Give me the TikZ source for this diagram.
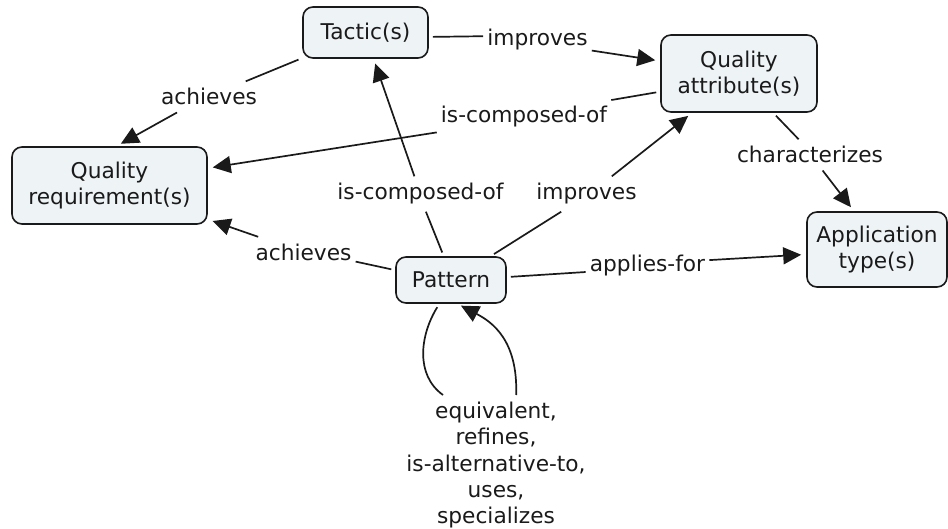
\documentclass[tikz,border=0pt]{standalone}
\usepackage{fontspec}
\setmainfont{DejaVu Sans}
\usetikzlibrary{arrows.meta}
\definecolor{cfill}{HTML}{EEF3F6}
\definecolor{ink}{HTML}{1A1A1A}
\newcommand\dfont{\fontsize{21.7}{26.3}\selectfont}
\begin{document}
\begin{tikzpicture}[x=1pt,y=-1pt,
  concept/.style={draw=ink, fill=cfill, rounded corners=10pt, line width=1.6pt, align=center, font=\dfont, text=ink, inner sep=0pt},
  lbl/.style={font=\dfont, text=ink, inner xsep=4pt, inner ysep=7pt, anchor=base},
  con/.style={draw=ink, line width=1.7pt, shorten <=4pt},
  arr/.style={draw=ink, line width=1.7pt, -{Triangle[length=18pt,width=17pt]}, shorten >=5pt}]
\useasboundingbox (0,0) rectangle (948,529);
% concepts
\node[concept, minimum width=125pt, minimum height=51pt] (T) at (365.5,32.5) {Tactic(s)};
\node[concept, minimum width=156pt, minimum height=77pt] (QA) at (739,73.5) {Quality\\attribute(s)};
\node[concept, minimum width=195pt, minimum height=77pt] (QR) at (109.5,185.5) {Quality\\requirement(s)};
\node[concept, minimum width=140pt, minimum height=75pt] (AT) at (877,249.5) {Application\\type(s)};
\node[concept, minimum width=110pt, minimum height=46pt] (P) at (451,280) {Pattern};
% linking phrases
\node[lbl] (L1) at (209,105) {achieves};
\node[lbl] (L2) at (537.5,46) {improves};
\node[lbl] (L3) at (524,123) {is-composed-of};
\node[lbl] (L4) at (810,163) {characterizes};
\node[lbl] (L5) at (420.5,200) {is-composed-of};
\node[lbl] (L6) at (586.5,200) {improves};
\node[lbl] (L7) at (303.5,260.5) {achieves};
\node[lbl] (L8) at (647.5,271.5) {applies-for};
\node[lbl, anchor=north, align=center] (L9) at (496,395) {equivalent,\\refines,\\is-alternative-to,\\uses,\\specializes};
% connectors
\draw[con] (T.202) -- (L1.23);
\draw[arr] (L1.206) -- (QR.80);
\draw[con] (T.356) -- (L2.176);
\draw[arr] (L2.349) -- (QA.171);
\draw[con] (QA.193) -- (L3.11);
\draw[arr] (L3.190) -- (QR.10);
\draw[con] (QA.311) -- (L4.126);
\draw[arr] (L4.309) -- (AT.121);
\draw[con] (P.107) -- (L5.287);
\draw[arr] (L5.109) -- (T.287);
\draw[con] (P.31) -- (L6.215);
\draw[arr] (L6.35) -- (QA.220);
\draw[con] (P.170) -- (L7.350);
\draw[arr] (L7.161) -- (QR.341);
\draw[con] (P.3) -- (L8.186);
\draw[arr] (L8.5) -- (AT.184);
\draw[con] (P.244) .. controls (420,335) and (415,375) .. (L9.127);
\draw[arr, shorten >=4pt] (L9.74) .. controls (518,340) and (492,322) .. (P.285);
\end{tikzpicture}
\end{document}
